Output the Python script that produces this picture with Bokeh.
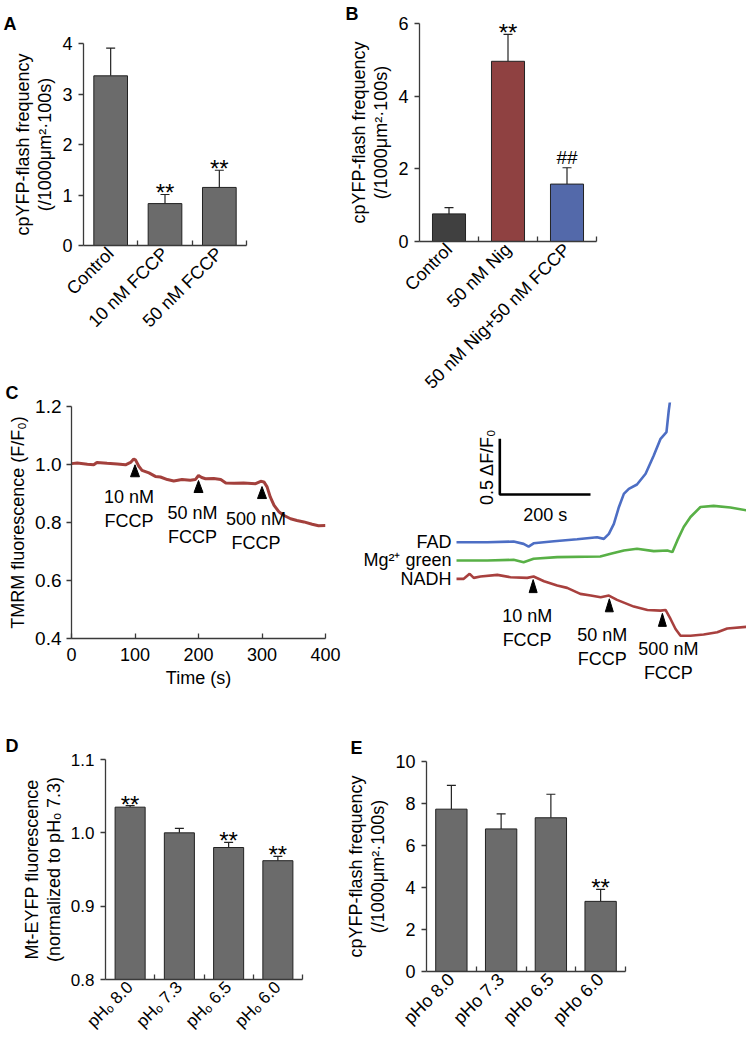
import math
import numpy as np
from bokeh.plotting import figure
from bokeh.layouts import row, column
from bokeh.models import (ColumnDataSource, Range1d, FixedTicker, Whisker, TeeHead,
                          LabelSet, NumeralTickFormatter)
from bokeh.core.properties import value
from bokeh.embed import file_html
from bokeh.resources import INLINE

FONT = "Liberation Sans"
AXIS = "#3a3a3a"
EDGE = "#222222"
GRAY = "#6b6b6b"

# ---------------- data ----------------
a_categories = ["Control", "10 nM FCCP", "50 nM FCCP"]
a_means = [3.36, 0.83, 1.15]
a_sem = [0.55, 0.18, 0.34]
a_marks = ["", "**", "**"]
a_yticks = [0, 1, 2, 3, 4]

b_categories = ["Control", "50 nM Nig", "50 nM Nig+50 nM FCCP"]
b_means = [0.76, 4.96, 1.58]
b_sem = [0.17, 0.74, 0.45]
b_marks = ["", "**", "##"]
b_colors = ["#404040", "#8f4141", "#5369aa"]
b_yticks = [0, 2, 4, 6]

c_time = [0, 9, 25, 35, 40, 56, 72, 85, 93, 98, 101, 106, 111, 122, 132, 140, 151,
          161, 174, 187, 195, 200, 205, 211, 224, 235, 243, 256, 271, 290, 298, 303,
          308, 313, 319, 327, 334, 345, 355, 366, 379, 389, 400]
c_tmrm = [1.003, 1.005, 1.001, 0.999, 1.007, 1.004, 1.002, 0.999, 1.007, 1.019, 1.015,
          0.994, 0.980, 0.971, 0.959, 0.957, 0.948, 0.943, 0.948, 0.946, 0.948, 0.962,
          0.955, 0.951, 0.952, 0.948, 0.936, 0.935, 0.936, 0.934, 0.942, 0.940, 0.923,
          0.888, 0.859, 0.836, 0.825, 0.813, 0.807, 0.802, 0.794, 0.789, 0.790]
c_xticks = [0, 100, 200, 300, 400]
c_yticks = [0.4, 0.6, 0.8, 1.0, 1.2]
c_fccp_time = [100, 200, 300]
fccp_labels = ["10 nM\nFCCP", "50 nM\nFCCP", "500 nM\nFCCP"]

fad_t = [0, 68, 126, 148, 159, 170, 215, 266, 310, 325, 336, 347, 358, 369, 380, 398,
         417, 435, 450, 463, 468, 472, 476]
fad = [0, 0, 0.006, -0.015, -0.039, -0.01, 0.009, 0.027, 0.045, 0.03, 0.075, 0.165,
       0.314, 0.434, 0.479, 0.518, 0.614, 0.778, 0.928, 0.988, 1.18, 1.30, 1.45]
mg_t = [0, 68, 126, 148, 170, 222, 317, 340, 369, 398, 435, 465, 476, 487, 501, 516,
        538, 567, 604, 640]
mg = [0, 0, 0.006, -0.015, 0.015, 0.03, 0.036, 0.06, 0.09, 0.105, 0.084, 0.09, 0.075,
      0.18, 0.30, 0.39, 0.48, 0.49, 0.475, 0.45]
nadh_t = [0, 16, 29, 38, 53, 90, 119, 156, 170, 193, 222, 244, 273, 296, 318, 336, 354,
          391, 421, 450, 461, 472, 483, 494, 516, 545, 575, 597, 640]
nadh = [0, 0, 0.045, 0.009, 0.021, 0.036, 0.015, 0.009, 0.021, -0.021, -0.06, -0.081,
        -0.135, -0.15, -0.165, -0.15, -0.189, -0.249, -0.279, -0.285, -0.279, -0.36,
        -0.45, -0.51, -0.51, -0.50, -0.48, -0.446, -0.43]
trace_names = ["FAD", "Mg²⁺ green", "NADH"]
cr_fccp_time = [169, 337, 454]
scale_time = 200
scale_dff = 0.5

d_categories = ["pHₒ 8.0", "pHₒ 7.3", "pHₒ 6.5", "pHₒ 6.0"]
d_means = [1.035, 1.000, 0.980, 0.962]
d_sem = [0.002, 0.006, 0.007, 0.006]
d_marks = ["**", "", "**", "**"]
d_yticks = [0.8, 0.9, 1.0, 1.1]

e_categories = ["pHo 8.0", "pHo 7.3", "pHo 6.5", "pHo 6.0"]
e_means = [7.73, 6.79, 7.32, 3.34]
e_sem = [1.13, 0.72, 1.12, 0.57]
e_marks = ["", "", "", "**"]
e_yticks = [0, 2, 4, 6, 8, 10]

YLAB_FLASH = "cpYFP-flash frequency\n(/1000μm²·100s)"


# ---------------- helpers ----------------
def style_axis(ax, tick_fs):
    ax.axis_line_color = AXIS
    ax.axis_line_width = 1.3
    ax.major_tick_line_color = AXIS
    ax.major_tick_line_width = 1.3
    ax.minor_tick_line_color = AXIS
    ax.minor_tick_line_width = 1.3
    ax.major_label_text_font = FONT
    ax.major_label_text_font_size = f"{tick_fs}px"
    ax.major_label_text_color = "black"
    ax.axis_label_text_font = FONT
    ax.axis_label_text_font_size = "18px"
    ax.axis_label_text_font_style = "normal"
    ax.axis_label_text_color = "black"
    ax.axis_label_text_line_height = 1.1


def new_fig(w, h, mbl, mbt, fw, fh, xr, yr, axes=True):
    kw = dict(width=w, height=h, x_range=Range1d(*xr), y_range=Range1d(*yr),
              min_border_left=mbl, min_border_top=mbt,
              min_border_right=w - mbl - fw, min_border_bottom=h - mbt - fh,
              output_backend="svg", toolbar_location=None, outline_line_color=None,
              background_fill_color="white", border_fill_color="white",
              frame_align=False)
    if not axes:
        kw.update(x_axis_location=None, y_axis_location=None)
    p = figure(**kw)
    p.xgrid.grid_line_color = None
    p.ygrid.grid_line_color = None
    return p


def add_letter(p, letter, letter_x, fig_x, mbl, standoff, size="18px"):
    t = p.title
    t.text = letter
    t.text_font = FONT
    t.text_font_size = size
    t.text_font_style = "bold"
    t.text_color = "black"
    t.align = "left"
    t.offset = letter_x - (fig_x + mbl)
    t.standoff = standoff


def bar_panel(cats, means, sem, marks, colors, yticks, ylabel, fig_xy, w, h, mbl, mbt,
              fw, fh, tick_fs, cat_fs, bar_w, letter, letter_x, letter_standoff,
              fmt=None):
    n = len(cats)
    xr = (0, n)
    yr = (yticks[0], yticks[-1])
    p = new_fig(w, h, mbl, mbt, fw, fh, xr, yr)
    xs = [i + 0.5 for i in range(n)]
    hi = [m + s for m, s in zip(means, sem)]
    src = ColumnDataSource(dict(x=xs, top=means, color=colors))
    p.vbar(x="x", top="top", bottom=yr[0], width=bar_w, fill_color="color",
           line_color=EDGE, line_width=1, source=src)
    wsrc = ColumnDataSource(dict(x=xs, lo=means, hi=hi))
    p.add_layout(Whisker(source=wsrc, base="x", lower="lo", upper="hi",
                         line_color=EDGE, line_width=1.2,
                         upper_head=TeeHead(size=9, line_color=EDGE, line_width=1.2),
                         lower_head=None))
    for sym, fs, dy in (("**", "24px", -7), ("##", "19px", 4)):
        idx = [i for i, m in enumerate(marks) if m == sym]
        if not idx:
            continue
        s = ColumnDataSource(dict(x=[xs[i] for i in idx], y=[hi[i] for i in idx],
                                  t=[sym] * len(idx)))
        p.add_layout(LabelSet(x="x", y="y", text="t", source=s, text_align="center",
                              text_baseline="alphabetic", y_offset=dy,
                              text_font=value(FONT), text_font_size=fs,
                              text_color="black"))
    xa = p.xaxis[0]
    ya = p.yaxis[0]
    style_axis(xa, cat_fs)
    style_axis(ya, tick_fs)
    xa.ticker = FixedTicker(ticks=xs, minor_ticks=list(range(1, n + 1)))
    xa.major_label_overrides = {x: c for x, c in zip(xs, cats)}
    xa.major_label_orientation = math.pi / 4
    xa.major_tick_in = 0
    xa.major_tick_out = 0
    xa.minor_tick_in = 5
    xa.minor_tick_out = 0
    xa.major_label_standoff = 5
    ya.ticker = FixedTicker(ticks=yticks)
    if fmt:
        ya.formatter = NumeralTickFormatter(format=fmt)
    ya.major_tick_in = 0
    ya.major_tick_out = 5
    ya.minor_tick_in = 0
    ya.minor_tick_out = 0
    ya.major_label_standoff = 6
    ya.axis_label = ylabel
    ya.axis_label_standoff = 4
    add_letter(p, letter, letter_x, fig_xy[0], mbl, letter_standoff)
    return p


def triangles(times, tt, vv, offset, pxx, pxy, gap, hgt, half):
    xs_, ys_ = [], []
    for t in times:
        v = float(np.interp(t, tt, vv)) + offset
        tip = v - gap / pxy
        base = tip - hgt / pxy
        xs_.append([t - half / pxx, t + half / pxx, t])
        ys_.append([base, base, tip])
    return xs_, ys_


# ---------------- panel A ----------------
pa = bar_panel(a_categories, a_means, a_sem, a_marks, [GRAY] * 3, a_yticks, YLAB_FLASH,
               (0, 0), 343, 346, 83, 43, 163, 202, 18, 18, 0.62, "A", 3, 19)

# ---------------- panel B ----------------
pb = bar_panel(b_categories, b_means, b_sem, b_marks, b_colors, b_yticks, YLAB_FLASH,
               (343, 0), 403, 402, 76, 23, 177, 218, 18, 18, 0.56, "B", 345, 0)

# ---------------- panel C (left) ----------------
cl_xr = (c_xticks[0], c_xticks[-1])
cl_yr = (c_yticks[0], c_yticks[-1])
cl = new_fig(343, 348, 71, 60, 254, 232, cl_xr, cl_yr)
cl.line(c_time, c_tmrm, line_width=3, line_color="#a3403c")
pxx = 254 / (cl_xr[1] - cl_xr[0])
pxy = 232 / (cl_yr[1] - cl_yr[0])
tx, ty = triangles(c_fccp_time, c_time, c_tmrm, 0.0, pxx, pxy, 5, 12, 4.5)
cl.patches(tx, ty, fill_color="black", line_color="black")
cl.text(x=c_fccp_time, y=[float(np.interp(t, c_time, c_tmrm)) for t in c_fccp_time],
        text=fccp_labels, text_align="center", text_baseline="top", y_offset=27,
        x_offset=-6, text_font=value(FONT), text_font_size="18px",
        text_line_height=1.2, text_color="black")
cxa = cl.xaxis[0]
cya = cl.yaxis[0]
style_axis(cxa, 18)
style_axis(cya, 19)
cxa.ticker = FixedTicker(ticks=c_xticks)
cxa.major_tick_in = 5
cxa.major_tick_out = 0
cxa.minor_tick_in = 0
cxa.minor_tick_out = 0
cxa.major_label_standoff = 9
cxa.axis_label = "Time (s)"
cxa.axis_label_standoff = 4
cya.ticker = FixedTicker(ticks=c_yticks)
cya.formatter = NumeralTickFormatter(format="0.0")
cya.major_tick_in = 0
cya.major_tick_out = 5
cya.minor_tick_in = 0
cya.minor_tick_out = 0
cya.major_label_standoff = 5
cya.axis_label = "TMRM fluorescence (F/F₀)"
cya.axis_label_standoff = 4
add_letter(cl, "C", 5, 0, 71, 8)

# ---------------- panel C (right) ----------------
cr_xr = (-249.2, 639.5)
cr_yr = (0.054, 2.675)
cr = new_fig(403, 292, 0, 0, 403, 292, cr_xr, cr_yr, axes=False)
offsets = [1.421, 1.257, 1.092]
trace_colors = ["#4d6ec4", "#58b046", "#a8403e"]
for tt, vv, off, col in ((fad_t, fad, offsets[0], trace_colors[0]),
                         (mg_t, mg, offsets[1], trace_colors[1]),
                         (nadh_t, nadh, offsets[2], trace_colors[2])):
    cr.line(tt, [v + off for v in vv], line_width=2.6, line_color=col)
cr.text(x=[fad_t[0], mg_t[0], nadh_t[0]],
        y=[fad[0] + offsets[0], mg[0] + offsets[1], nadh[0] + offsets[2]],
        text=trace_names, text_align="right", text_baseline="middle", x_offset=-5,
        text_font=value(FONT), text_font_size="18px", text_color="black")
rpxx = 403 / (cr_xr[1] - cr_xr[0])
rpxy = 292 / (cr_yr[1] - cr_yr[0])
rtx, rty = triangles(cr_fccp_time, nadh_t, nadh, offsets[2], rpxx, rpxy, 3, 13, 4)
cr.patches(rtx, rty, fill_color="black", line_color="black")
cr.text(x=cr_fccp_time,
        y=[float(np.interp(t, nadh_t, nadh)) + offsets[2] for t in cr_fccp_time],
        text=fccp_labels, text_align="center", text_baseline="top", y_offset=29,
        x_offset=[-6, -7, 6], text_font=value(FONT), text_font_size="18px",
        text_line_height=1.2, text_color="black")
sb_t, sb_y = 95.5, 1.849
cr.line([sb_t, sb_t, sb_t + scale_time], [sb_y + scale_dff, sb_y, sb_y],
        line_width=2.6, line_color="black")
cr.text(x=[sb_t + scale_time / 2], y=[sb_y], text=[f"{scale_time} s"],
        text_align="center", text_baseline="top", y_offset=10,
        text_font=value(FONT), text_font_size="18px", text_color="black")
cr.text(x=[sb_t], y=[sb_y + scale_dff / 2], text=[f"{scale_dff} ΔF/F₀"],
        angle=math.pi / 2, text_align="center", text_baseline="bottom", x_offset=-3,
        text_font=value(FONT), text_font_size="18px", text_color="black")

# ---------------- panel D ----------------
pd_ = bar_panel(d_categories, d_means, d_sem, d_marks, [GRAY] * 4, d_yticks,
                "Mt-EYFP fluorescence\n(normalized to pHₒ 7.3)",
                (0, 694), 343, 346, 105, 65, 197, 221, 17, 17, 0.61, "D", 5, 7,
                fmt="0.0")

# ---------------- panel E ----------------
pe = bar_panel(e_categories, e_means, e_sem, e_marks, [GRAY] * 4, e_yticks, YLAB_FLASH,
               (343, 694), 403, 346, 78, 67, 204, 210, 18, 18, 0.63, "E", 345, 7)

layout = row(column(pa, cl, pd_), column(pb, cr, pe))
open("out.html", "w").write(file_html(layout, INLINE))
